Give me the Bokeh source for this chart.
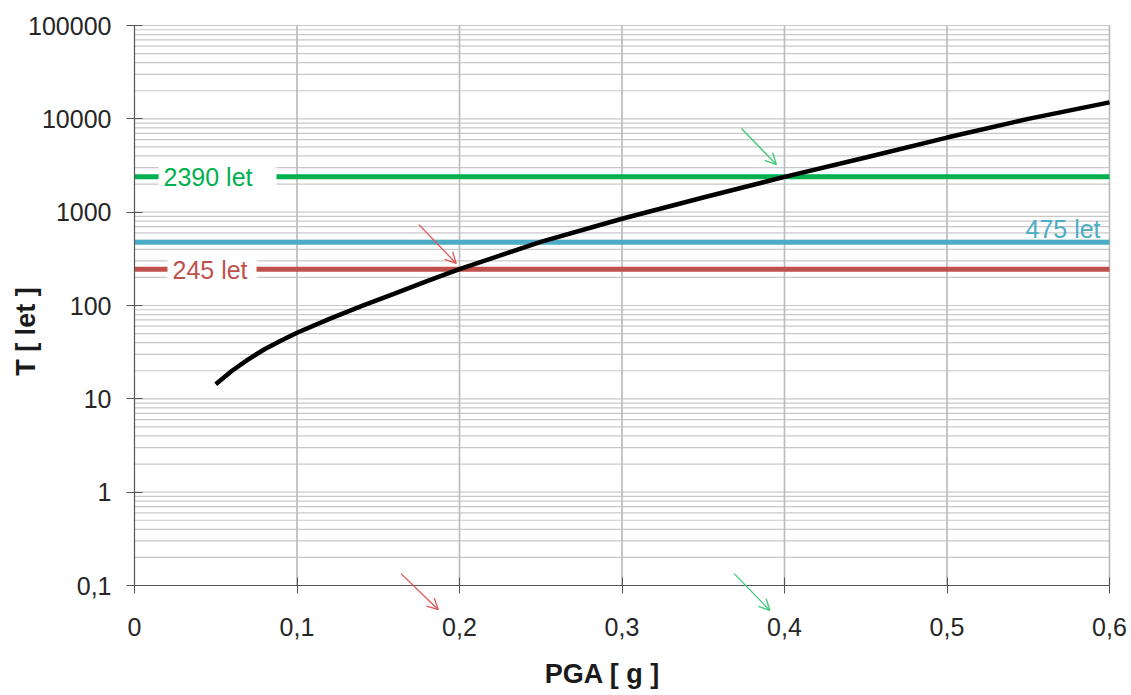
from math import pi
from bokeh.plotting import figure
from bokeh.models import (Range1d, FixedTicker, CustomJSTickFormatter, Label,
                          Arrow, OpenHead)
from bokeh.embed import file_html
from bokeh.resources import INLINE

# ---- data ----
pga = [0.05, 0.06, 0.07, 0.08, 0.09, 0.10, 0.12, 0.14, 0.16, 0.18, 0.20,
       0.25, 0.30, 0.35, 0.40, 0.45, 0.50, 0.55, 0.60]
period = [14.3, 20, 26.5, 34, 42, 51, 72, 99, 134, 182, 245,
          480, 850, 1435, 2390, 3850, 6300, 10000, 15000]

levels = [2390, 475, 245]
level_labels = ["2390 let", "475 let", "245 let"]
level_colors = ["#00b050", "#4bacc6", "#c0504d"]

x_ticks = [0.0, 0.1, 0.2, 0.3, 0.4, 0.5, 0.6]
y_ticks = [0.1, 1, 10, 100, 1000, 10000, 100000]
y_minor = [m * 10.0 ** e for e in range(-1, 5) for m in range(2, 10)]

# arrows (x_start, y_start, x_end, y_end) in data units
red_arrows = [(0.175, 736, 0.198, 282), (0.164, 0.134, 0.187, 0.055)]
green_arrows = [(0.3735, 7870, 0.395, 3240), (0.369, 0.134, 0.391, 0.054)]

FONT = "Liberation Sans"

# frame spans the whole canvas; ranges chosen so that x 0..0.6 and y 0.1..1e5
# fall where the reference plot area is
X0, X1 = x_ticks[0], x_ticks[-1]
Y0, Y1 = y_ticks[0], y_ticks[-1]
xspan = X1 - X0
x_lo = X0 - xspan * 134 / 975
x_hi = X1 + xspan * 22 / 975
dec = 560 / 6.0
y_lo = Y0 / 10 ** (110 / dec)
y_hi = Y1 * 10 ** (25 / dec)

p = figure(width=1131, height=695, y_axis_type="log",
           x_range=Range1d(x_lo, x_hi), y_range=Range1d(y_lo, y_hi),
           output_backend="svg", toolbar_location=None,
           min_border_left=0, min_border_right=0,
           min_border_top=0, min_border_bottom=0)
p.outline_line_color = None
p.background_fill_color = "white"
p.border_fill_color = "white"
p.xgrid.visible = False
p.ygrid.visible = False

# manual grid lines limited to the plot area
all_y = y_ticks + y_minor
p.segment(x0=[X0] * len(all_y), x1=[X1] * len(all_y), y0=all_y, y1=all_y,
          line_color="#c8c8c8", line_width=1.2)
p.segment(x0=x_ticks[1:], x1=x_ticks[1:], y0=[Y0] * 6, y1=[Y1] * 6,
          line_color="#bdbdbd", line_width=1.7)

# axes placed at fixed data locations
p.xaxis.fixed_location = Y0
p.yaxis.fixed_location = X0
p.xaxis.bounds = (X0, X1)
p.yaxis.bounds = (Y0, Y1)
p.xaxis.ticker = FixedTicker(ticks=x_ticks)
p.yaxis.ticker = FixedTicker(ticks=y_ticks, minor_ticks=y_minor)
fmt = CustomJSTickFormatter(code="return String(tick).replace('.', ',');")
p.xaxis.formatter = fmt
p.yaxis.formatter = fmt
for ax in (p.xaxis, p.yaxis):
    ax.major_label_text_font = FONT
    ax.major_label_text_font_size = "25px"
    ax.major_label_text_color = "#262626"
    ax.axis_line_color = "#555555"
    ax.axis_line_width = 1.2
    ax.major_tick_line_color = "#555555"
    ax.major_tick_in = 8
    ax.major_tick_out = 8
    ax.minor_tick_line_color = None
p.xaxis.major_label_standoff = 24
p.yaxis.major_label_standoff = 15

# horizontal return-period lines
for lv, col in zip(levels, level_colors):
    p.line([X0, X1], [lv, lv], line_color=col, line_width=5)

# curve
p.line(pga, period, line_color="black", line_width=4.5)

# labels
p.add_layout(Label(x=0.0148, y=levels[0], text=level_labels[0],
                   text_color=level_colors[0], text_font=FONT,
                   text_font_size="25px", text_baseline="middle",
                   background_fill_color="white", padding=(5, 24, 5, 4)))
p.add_layout(Label(x=0.0203, y=levels[2], text=level_labels[2],
                   text_color=level_colors[2], text_font=FONT,
                   text_font_size="25px", text_baseline="middle",
                   background_fill_color="white", padding=(5, 9, 5, 4)))
p.add_layout(Label(x=0.5945, y=levels[1], text=level_labels[1],
                   text_color=level_colors[1], text_font=FONT,
                   text_font_size="25px", text_align="right",
                   text_baseline="bottom", y_offset=-1))

# arrows
for (xs, ys, xe, ye) in red_arrows:
    p.add_layout(Arrow(x_start=xs, y_start=ys, x_end=xe, y_end=ye,
                       line_color="#e05555", line_width=1.3,
                       end=OpenHead(size=11, line_color="#e05555", line_width=1.3)))
for (xs, ys, xe, ye) in green_arrows:
    p.add_layout(Arrow(x_start=xs, y_start=ys, x_end=xe, y_end=ye,
                       line_color="#3ec878", line_width=1.3,
                       end=OpenHead(size=11, line_color="#3ec878", line_width=1.3)))

# axis titles
p.add_layout(Label(x=-0.0667, y=52.5, text="T [ let ]", angle=pi / 2,
                   text_font=FONT, text_font_style="bold", text_font_size="27px",
                   text_color="#1a1a1a", text_align="center", text_baseline="middle"))
p.add_layout(Label(x=0.288, y=0.0114, text="PGA [ g ]",
                   text_font=FONT, text_font_style="bold", text_font_size="27px",
                   text_color="#1a1a1a", text_align="center", text_baseline="middle"))

open("out.html", "w").write(file_html(p, INLINE))
